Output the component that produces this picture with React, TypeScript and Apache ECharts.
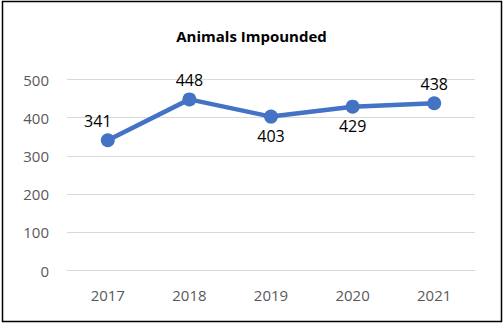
import React, { useEffect, useRef } from "react";
import * as echarts from "echarts";

const categories = ["2017", "2018", "2019", "2020", "2021"];
const values = [341, 448, 403, 429, 438];
const labelPositions = ["top", "top", "bottom", "bottom", "top"];
const labelOffsets = [[-10, 0], [0, 0], [0, 0], [0, 0], [0, 0]];

export default function App() {
  const ref = useRef<HTMLDivElement>(null);
  useEffect(() => {
    const chart = echarts.init(ref.current!, null, { renderer: "svg" });
    const font = "Open Sans";
    chart.setOption({
      animation: false,
      backgroundColor: "#ffffff",
      title: {
        text: "Animals Impounded",
        left: "center",
        top: 23,
        textStyle: { fontFamily: font, fontWeight: "bold", fontSize: 15, color: "#000" },
      },
      graphic: [
        {
          type: "rect",
          shape: { x: 2.5, y: 1.5, width: 499, height: 320 },
          style: { fill: "none", stroke: "#000", lineWidth: 1.5 },
          silent: true,
        },
      ],
      grid: { left: 67, right: 28, top: 79.5, bottom: 53.3, containLabel: false },
      xAxis: {
        type: "category",
        data: categories,
        boundaryGap: true,
        axisLine: { show: true, lineStyle: { color: "#d9d9d9", width: 1 } },
        axisTick: { show: false },
        axisLabel: { fontFamily: font, fontSize: 15, color: "#595959", margin: 17 },
      },
      yAxis: {
        type: "value",
        min: 0,
        max: 500,
        interval: 100,
        axisLine: { show: false },
        axisTick: { show: false },
        splitLine: { lineStyle: { color: "#d9d9d9", width: 1 } },
        axisLabel: { fontFamily: font, fontSize: 15, color: "#595959", margin: 18 },
      },
      series: [
        {
          type: "line",
          data: values.map((v, i) => ({
            value: v,
            label: { position: labelPositions[i], offset: labelOffsets[i] },
          })),
          symbol: "circle",
          symbolSize: 14,
          lineStyle: { color: "#4472C4", width: 4.5 },
          itemStyle: { color: "#4472C4" },
          label: {
            show: true,
            fontFamily: font,
            fontSize: 16,
            color: "#000",
            distance: 4,
          },
        },
      ],
    });
    return () => chart.dispose();
  }, []);
  return (
    <div
      ref={ref}
      style={{ position: "absolute", left: 0, top: 0, width: 503, height: 324 }}
    />
  );
}
